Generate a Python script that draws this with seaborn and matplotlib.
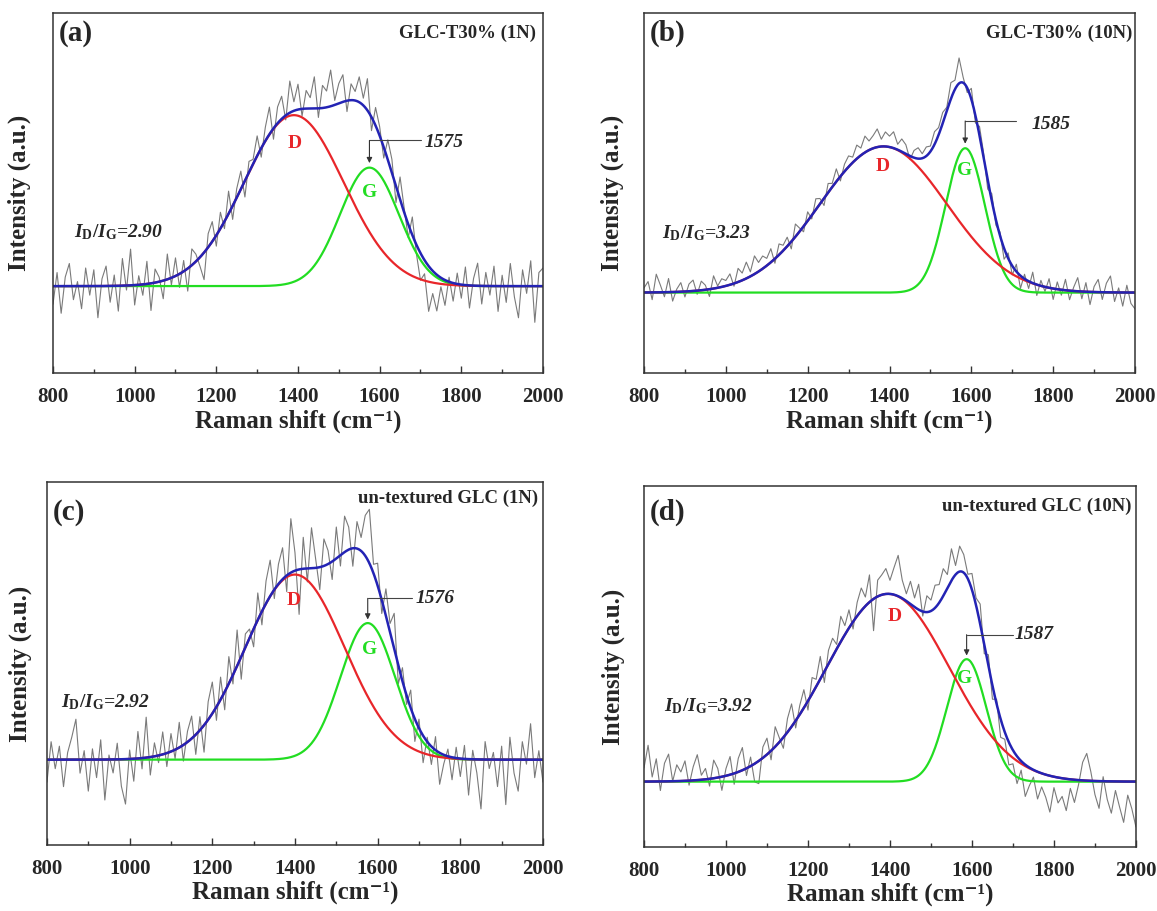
import numpy as np
import pandas as pd
import matplotlib
matplotlib.use("Agg")
import matplotlib.pyplot as plt
import matplotlib.transforms as mtransforms
import seaborn as sns

# ---------------- data ----------------
PANEL_LABELS = ["(a)", "(b)", "(c)", "(d)"]
SAMPLE_NAMES = ["GLC-T30% (1N)", "GLC-T30% (10N)",
                "un-textured GLC (1N)", "un-textured GLC (10N)"]
ID_IG = ["2.90", "3.23", "2.92", "3.92"]
G_POS_LABEL = ["1575", "1585", "1576", "1587"]

# fitted Gaussian bands: centre (cm-1), height (a.u.), sigma (cm-1)
D_CENTER = [1390, 1385, 1400, 1395]
D_HEIGHT = [189, 161, 206, 207]
D_SIGMA = [122, 155, 120, 150]
G_CENTER = [1575, 1585, 1576, 1587]
G_HEIGHT = [131, 159, 152, 135]
G_SIGMA = [72, 48, 66, 48]

# measured spectrum, sampled every 10 cm-1 from 800 to 2000,
# stored as deviation from the fitted envelope (a.u.)
RAW_DEV_A = [-20, 15, -30, 10, 25, -15, 5, -25, 20, -10,
             18, -35, 8, 22, -18, 12, -28, 30, -5, 40,
             -22, 10, -12, 25, -30, 15, 5, -20, 28, -8,
             20, -15, 12, -25, 18, 8, -10, -30, 15, 22,
             -12, 18, -8, 25, -15, 10, 20, -18, 12, 5,
             22, -10, 15, 30, -12, 18, 25, -5, 35, 10,
             28, -8, 20, 12, 35, -10, 25, 18, 40, 5,
             22, 30, -12, 18, 10, 28, 8, 35, -15, 20,
             10, -12, 22, 15, -18, 25, 5, -15, 20, -10,
             -30, -15, -50, -25, -40, -10, -28, 5, -20, 12,
             -15, 20, -25, 8, 25, -20, 15, -10, 22, -28,
             12, -18, 25, -12, -35, 18, -8, 28, -40, 15,
             20]
RAW_DEV_B = [5, 12, -8, 20, 8, -5, 15, -10, 3, 10,
             -6, 8, 12, -4, 10, 5, -8, 14, 2, 9,
             6, 12, -3, 15, 8, 18, 5, 20, 10, 14,
             8, 15, -5, 12, 6, 10, -8, 14, 4, -6,
             10, -4, 12, 6, -8, 10, 4, 14, -5, 8,
             12, 6, 15, 8, 18, 10, 14, 20, 8, 16,
             12, 18, 6, 14, 10, -4, 8, 12, 5, 10,
             6, 14, 8, 12, 4, 18, 10, 28, 6, -5,
             12, -8, 10, 5, -10, 8, -6, 4, -12, 6,
             -10, 8, -14, 5, -8, 12, -12, 6, -5, 10,
             -12, 8, -6, 12, -10, 4, 15, -8, 10, -14,
             6, 14, -8, 10, 18, -10, 5, -15, 8, -12,
             -18]
RAW_DEV_C = [-25, 20, -10, 15, -30, 8, 25, 45, -15, 10,
             -35, 12, -20, 22, -45, 5, -15, 18, -30, -50,
             10, -25, 30, -12, 45, -20, 15, -8, 25, -15,
             20, -10, 28, -18, 12, 25, -22, 15, -30, 20,
             35, -15, 25, -20, 30, -10, 40, -25, 15, 10,
             -20, 30, -15, 25, 40, -10, 22, 35, -18, 60,
             20, -50, 35, -15, 45, 10, -25, 30, 15, -20,
             35, -12, 40, 25, -20, 30, 15, 45, 60, 10,
             25, -15, 30, 10, 40, -20, 15, -10, 20, -25,
             10, -30, 5, -20, 15, -35, -10, 8, -25, 12,
             -20, 15, -40, 10, -15, -55, 20, -10, 8, -30,
             15, -50, 25, -15, -35, 20, -5, 40, -20, 10,
             -25]
RAW_DEV_D = [15, 40, 5, 25, -10, 20, 30, 0, 18, 10,
             22, -5, 15, 28, 5, 12, -8, 20, 10, -15,
             8, 20, -12, 15, 25, -8, 10, -20, -25, 12,
             18, -10, 22, 5, -12, 15, 25, -8, 10, 20,
             -10, 18, 8, 25, -12, 15, 20, 5, 28, 10,
             20, -8, 15, 25, 10, 30, -35, 18, 22, 28,
             15, 30, 45, 20, 8, 25, 10, 28, -5, 18,
             12, 25, 20, 30, 15, 35, 10, 28, 20, 5,
             18, 8, 22, -10, 12, -15, 5, -20, -8, -25,
             -15, -30, -10, -35, -20, -8, -30, -15, -25, -40,
             -12, -28, -20, -35, -10, -25, -5, 20, 30, 10,
             -15, -30, 5, -20, -35, -10, -28, -45, -15, -30,
             -50]
RAW_DEVS = [RAW_DEV_A, RAW_DEV_B, RAW_DEV_C, RAW_DEV_D]

# ---------------- layout ----------------
AX_RECTS = [(0.0458, 0.5906, 0.4235, 0.3952),
            (0.5566, 0.5906, 0.4244, 0.3952),
            (0.0406, 0.0724, 0.4287, 0.3985),
            (0.5566, 0.0703, 0.4252, 0.3963)]
YLIMS = [(-96, 302), (-88.5, 308), (-95, 309), (-72, 326)]
D_TXT = [(1391, 158), (1384, 139), (1397, 177), (1412, 182)]
G_TXT = [(1575, 103), (1583, 134), (1581, 123), (1583, 114)]
POS_TXT = [(1757, 159), (1796, 185), (1738, 179), (1751, 162)]
ARROW = [(161, 1702, 136), (189, 1709, 164), (179.5, 1684, 156), (162, 1700, 139)]
RATIO_XY = [(0.042, 60), (0.036, 65), (0.028, 64), (0.041, 83)]
PLABEL_Y = [0.944, 0.944, 0.915, 0.926]
NAME_XY = [(0.986, 0.944), (0.994, 0.944), (0.99, 0.955), (0.99, 0.944)]
YLAB_X = [-0.045, -0.041, -0.030, -0.039]
XLAB_Y = [-0.103, -0.103, -0.099, -0.1]

sns.set_theme(style="ticks")
plt.rcParams["font.family"] = ["Liberation Serif", "DejaVu Serif"]
plt.rcParams["font.weight"] = "bold"
plt.rcParams["mathtext.fontset"] = "custom"
plt.rcParams["mathtext.rm"] = "Liberation Serif:bold"
plt.rcParams["mathtext.bf"] = "Liberation Serif:bold"
plt.rcParams["mathtext.it"] = "Liberation Serif:bold:italic"

RAW_C = "#7a7a7a"
D_C = "#e8262a"
G_C = "#22dd22"
FIT_C = "#2323b4"

fig = plt.figure(figsize=(11.57, 9.11), dpi=100)

x_raw = np.arange(800, 2001, 10)
x_fit = np.arange(800, 2001, 2)


def gauss(x, c, h, s):
    return h * np.exp(-0.5 * ((x - c) / s) ** 2)


for i in range(4):
    ax = fig.add_axes(AX_RECTS[i])
    d_fit = gauss(x_fit, D_CENTER[i], D_HEIGHT[i], D_SIGMA[i])
    g_fit = gauss(x_fit, G_CENTER[i], G_HEIGHT[i], G_SIGMA[i])
    env_raw = (gauss(x_raw, D_CENTER[i], D_HEIGHT[i], D_SIGMA[i])
               + gauss(x_raw, G_CENTER[i], G_HEIGHT[i], G_SIGMA[i]))
    raw = env_raw + np.array(RAW_DEVS[i], dtype=float)

    df_raw = pd.DataFrame({"x": x_raw, "y": raw})
    df_fit = pd.DataFrame({"x": x_fit, "D": d_fit, "G": g_fit, "fit": d_fit + g_fit})

    sns.lineplot(data=df_raw, x="x", y="y", ax=ax, color=RAW_C, lw=0.8,
                 estimator=None, sort=False)
    sns.lineplot(data=df_fit, x="x", y="G", ax=ax, color=G_C, lw=1.6,
                 estimator=None, sort=False)
    sns.lineplot(data=df_fit, x="x", y="D", ax=ax, color=D_C, lw=1.6,
                 estimator=None, sort=False)
    sns.lineplot(data=df_fit, x="x", y="fit", ax=ax, color=FIT_C, lw=1.8,
                 estimator=None, sort=False)

    ax.set_xlim(800, 2000)
    ax.set_ylim(*YLIMS[i])
    ax.set_xticks(np.arange(800, 2001, 200))
    ax.set_xticks(np.arange(900, 2000, 200), minor=True)
    ax.set_yticks([])
    ax.tick_params(axis="x", which="major", direction="in", length=5, width=1,
                   labelsize=15, pad=10, color="#333333", top=False)
    ax.tick_params(axis="x", which="minor", direction="in", length=3, width=1,
                   color="#333333", top=False)
    for lab in ax.get_xticklabels():
        lab.set_fontweight("bold")
    for sp in ax.spines.values():
        sp.set_visible(True)
        sp.set_color("#333333")
        sp.set_linewidth(1.1)

    ax.set_xlabel("Raman shift (cm\u207b\u00b9)", fontsize=18, fontweight="bold")
    ax.set_ylabel("Intensity (a.u.)", fontsize=18, fontweight="bold")
    ax.xaxis.set_label_coords(0.5, XLAB_Y[i])
    ax.yaxis.set_label_coords(YLAB_X[i], 0.5)

    ax.text(0.011, PLABEL_Y[i], PANEL_LABELS[i], transform=ax.transAxes,
            fontsize=21, fontweight="bold", ha="left", va="center")
    ax.text(NAME_XY[i][0], NAME_XY[i][1], SAMPLE_NAMES[i], transform=ax.transAxes,
            fontsize=13.5, fontweight="bold", ha="right", va="center")
    ax.text(D_TXT[i][0], D_TXT[i][1], "D", color=D_C, fontsize=14,
            fontweight="bold", ha="center", va="center")
    ax.text(G_TXT[i][0], G_TXT[i][1], "G", color=G_C, fontsize=14,
            fontweight="bold", ha="center", va="center")
    ax.text(POS_TXT[i][0], POS_TXT[i][1], G_POS_LABEL[i], fontsize=14,
            fontweight="bold", style="italic", ha="center", va="center")
    ay, ax_end, tip = ARROW[i]
    ax.plot([G_CENTER[i], ax_end], [ay, ay], color="#444444", lw=0.8)
    ax.annotate("", xy=(G_CENTER[i], tip), xytext=(G_CENTER[i], ay),
                arrowprops=dict(arrowstyle="-|>", color="#333333", lw=0.8,
                                mutation_scale=8, shrinkA=0, shrinkB=0))
    blend = mtransforms.blended_transform_factory(ax.transAxes, ax.transData)
    ax.text(RATIO_XY[i][0], RATIO_XY[i][1],
            r"$I_{\mathrm{D}}/I_{\mathrm{G}}$=" + ID_IG[i],
            transform=blend, fontsize=14, fontweight="bold", style="italic",
            ha="left", va="center")

fig.savefig("out.png", dpi=100, facecolor="white")
